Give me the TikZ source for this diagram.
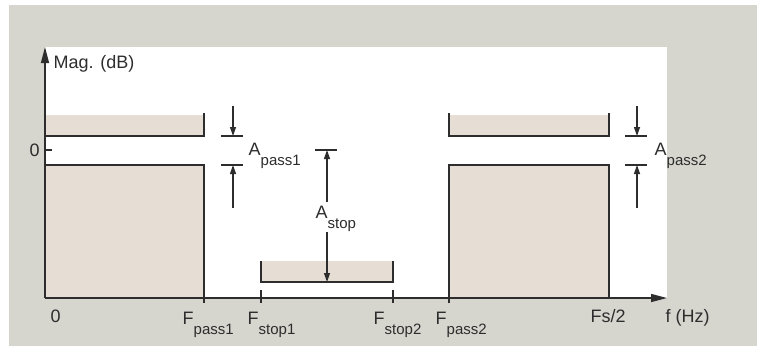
\documentclass[tikz,border=0pt]{standalone}
\usepackage{fontspec}
\setmainfont{Liberation Sans}
\usetikzlibrary{arrows.meta,positioning,calc}
\definecolor{panelgrey}{RGB}{214,214,207}
\definecolor{bandtan}{RGB}{230,222,213}
\definecolor{inkgrey}{RGB}{45,45,45}
\newcommand{\sublab}[2]{#1\raisebox{-10pt}{\fontsize{15}{15}\selectfont #2}}

\begin{document}
\begin{tikzpicture}[x=1pt,y=-1pt,font=\fontsize{18}{20}\selectfont,
    line width=1.4pt,draw=inkgrey,text=inkgrey,
    lab/.style={inner sep=0pt,anchor=base west},
    band/.style={fill=bandtan},
    axisarrow/.style={-{Triangle[length=16pt,width=8pt]}},
    dimarrow/.style={line width=1.2pt,-{Triangle[length=9pt,width=6pt]}}]
  \useasboundingbox (0,0) rectangle (757,346);
  \fill[panelgrey] (9,5) rectangle (757,346);
  \fill[white] (45,47) rectangle (667,298);

  % passband 1
  \fill[band] (45,115) rectangle (204,136);
  \draw (45,136) -- (204,136) -- (204,113);
  \fill[band] (45,165) rectangle (204,298);
  \draw (45,165) -- (204,165) -- (204,303);
  % stopband
  \fill[band] (261,261) rectangle (393,282);
  \draw (261,261) -- (261,282) -- (393,282) -- (393,261);
  % passband 2
  \fill[band] (449,115) rectangle (609,136);
  \draw (449,113) -- (449,136) -- (609,136) -- (609,113);
  \fill[band] (449,165) rectangle (609,298);
  \draw (449,303) -- (449,165) -- (609,165) -- (609,298);

  % axes
  \coordinate (orig) at (45,298);
  \coordinate (xend) at (667,298);
  \coordinate (yend) at (45,47);
  \draw[axisarrow] (orig) -- (xend);
  \draw[axisarrow] (orig) -- (yend);
  \foreach \x in {261,393}{
    \draw (\x,290) -- (\x,303);
  }
  \draw (45,150) -- (52,150);

  \node[lab] (mag) at (53,68) {Mag. (dB)};
  \node[lab] (zeroy) at (29,156) {0};
  \node[lab] (zerox) at (50,322) {0};
  \node[lab] (fp1) at (182,324) {\sublab{F}{pass1}};
  \node[lab] (fs1) at (247,324) {\sublab{F}{stop1}};
  \node[lab] (fs2) at (373,324) {\sublab{F}{stop2}};
  \node[lab] (fp2) at (435,324) {\sublab{F}{pass2}};
  \node[lab] (fhalf) at (590,322) {Fs/2};
  \node[lab] (fhz) at (665,322) {f (Hz)};

  % ripple arrows
  \foreach \x/\nm in {233/one,637/two}{
    \coordinate (\nm top) at (\x,106);
    \coordinate (\nm hi) at (\x,136);
    \coordinate (\nm lo) at (\x,165);
    \coordinate (\nm bot) at (\x,208);
    \draw[dimarrow] (\nm top) -- (\nm hi);
    \draw[dimarrow] (\nm bot) -- (\nm lo);
    \draw ([xshift=-12pt]\nm hi) -- ([xshift=10pt]\nm hi);
    \draw ([xshift=-12pt]\nm lo) -- ([xshift=10pt]\nm lo);
  }
  \node[lab] (apass1) at (248,155) {\sublab{A}{pass1}};
  \node[lab] (apass2) at (654,155) {\sublab{A}{pass2}};

  % stopband attenuation
  \node[lab] (astop) at (315,218) {\sublab{A}{stop}};
  \coordinate (stophi) at (327,150);
  \coordinate (stoplo) at (327,282);
  \draw[dimarrow] (astop.north -| stophi) ++(0,-3) -- (stophi);
  \draw[dimarrow] (astop.south -| stoplo) -- (stoplo);
  \draw ([xshift=-12pt]stophi) -- ([xshift=10pt]stophi);
\end{tikzpicture}
\end{document}
